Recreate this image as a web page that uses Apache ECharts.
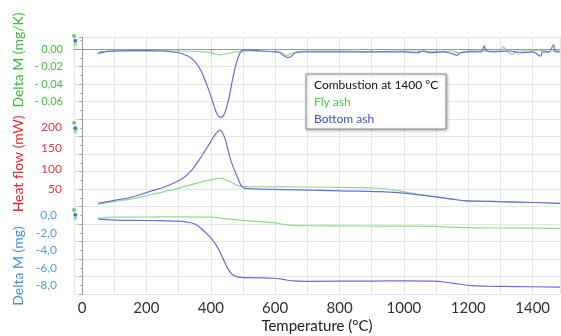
<!DOCTYPE html>
<html><head><meta charset="utf-8">
<script src="https://cdn.jsdelivr.net/npm/echarts@6/dist/echarts.min.js"></script>
<style>html,body{margin:0;padding:0;background:#fff}#c{width:561px;height:336px}</style>
</head><body><div id="c"></div>
<script>
// ---- data (temperature °C, value) ----
const dtgBottom = [[50,-0.005],[70,-0.003],[100,-0.002],[150,-0.0015],[200,-0.0015],[250,-0.002],[300,-0.004],[330,-0.008],[350,-0.014],[370,-0.025],[390,-0.043],[405,-0.059],[418,-0.073],[430,-0.078],[442,-0.074],[455,-0.058],[468,-0.034],[480,-0.015],[490,-0.005],[500,-0.001],[520,-0.001],[560,-0.002],[600,-0.003],[615,-0.004],[630,-0.008],[640,-0.0095],[650,-0.008],[662,-0.004],[680,-0.003],[800,-0.003],[900,-0.003],[1000,-0.003],[1040,-0.004],[1060,-0.002],[1080,-0.004],[1120,-0.003],[1150,-0.005],[1165,-0.007],[1175,-0.004],[1200,-0.003],[1240,-0.003],[1250,0.004],[1256,-0.002],[1280,-0.003],[1330,-0.002],[1360,-0.004],[1400,-0.003],[1425,-0.008],[1432,-0.002],[1450,-0.003],[1465,0.005],[1470,-0.003],[1485,-0.003]];
const dtgFly = [[50,-0.003],[100,-0.002],[200,-0.002],[300,-0.002],[380,-0.003],[410,-0.005],[430,-0.0065],[450,-0.005],[480,-0.003],[520,-0.002],[600,-0.003],[620,-0.004],[635,-0.007],[650,-0.005],[670,-0.003],[700,-0.002],[800,-0.002],[900,-0.003],[1000,-0.002],[1050,-0.002],[1100,-0.003],[1150,-0.002],[1170,-0.004],[1200,-0.002],[1230,-0.001],[1260,-0.002],[1300,-0.002],[1308,0.003],[1320,-0.002],[1338,-0.006],[1350,-0.002],[1380,-0.002],[1420,-0.001],[1440,-0.004],[1460,-0.002],[1485,-0.001]];
const hfBottom = [[50,17],[100,24],[150,31],[209,45],[262,58],[313,77],[340,96],[365,122],[380,140],[397,161],[412,180],[422,189],[428,192],[434,189],[445,170],[459,128],[470,103],[480,85],[490,66],[500,55],[520,52],[625,50],[800,47],[928,45],[990,42],[1040,38],[1094,33],[1150,27],[1194,23],[1250,22],[1294,21],[1400,19],[1485,17]];
const hfFly = [[50,15],[100,21],[150,27],[209,37],[262,46],[313,56],[360,66],[400,73],[428,77],[445,74],[470,65],[490,58],[520,57],[700,56],[887,54],[928,53],[990,46],[1040,39],[1094,33],[1150,27],[1194,23],[1294,21],[1400,19],[1485,17]];
const tgBottom = [[50,-0.45],[100,-0.55],[200,-0.6],[300,-0.68],[330,-0.8],[344,-0.92],[360,-1.2],[375,-1.69],[390,-2.2],[406,-2.83],[418,-3.5],[428,-4.17],[440,-5.1],[450,-5.88],[460,-6.5],[469,-6.83],[480,-7.0],[490,-7.09],[550,-7.15],[594,-7.2],[620,-7.3],[656,-7.51],[700,-7.55],[900,-7.52],[1000,-7.5],[1090,-7.52],[1150,-7.75],[1213,-8.05],[1260,-8.1],[1350,-8.15],[1485,-8.22]];
const tgFly = [[50,-0.35],[100,-0.22],[200,-0.2],[300,-0.18],[400,-0.22],[450,-0.42],[500,-0.58],[553,-0.74],[600,-0.88],[620,-1.0],[640,-1.12],[700,-1.2],[866,-1.23],[1000,-1.24],[1090,-1.27],[1150,-1.36],[1188,-1.42],[1300,-1.46],[1485,-1.49]];
// small colored axis-origin markers [x, y] per axis
const markDtg = [[-25,0.0151,'#3ec43e'],[-21,0.0097,'#3344cc'],[-21,0.0059,'#7fdf7f']];
const markHf = [[-25,209.8,'#3ec43e'],[-21,196.4,'#3344cc'],[-21,188.3,'#7fdf7f']];
const markTg = [[-25,0.6,'#3ec43e'],[-21,0.03,'#3344cc'],[-21,-0.31,'#7fdf7f']];
const legendTitle = 'Combustion at 1400 °C';
const seriesNames = ['Fly ash','Bottom ash'];

const FONT = 'Lato';
const cFly = '#8ade8a', cBot = '#6c6ce2';
const chart = echarts.init(document.getElementById('c'));
function mk(arr, yi){
  return {type:'scatter', yAxisIndex:yi, clip:false, silent:true, z:5,
    symbolSize:4, data:arr.map(p=>({value:[p[0],p[1]], itemStyle:{color:p[2]}}))};
}
function ln(name, data, yi, color){
  return {type:'line', name, data, yAxisIndex:yi, showSymbol:false, symbol:'none',
    lineStyle:{color, width:1.2}, itemStyle:{color}, smooth:0.4, z:3};
}
chart.setOption({
  animation:false,
  backgroundColor:'#fff',
  textStyle:{fontFamily:FONT},
  grid:{left:74, right:1, top:37, bottom:42, containLabel:false, outerBoundsMode:'none'},
  xAxis:{type:'value', min:-25, max:1485, splitNumber:15, minInterval:100, maxInterval:100,
    axisLine:{lineStyle:{color:'#999'}}, axisTick:{show:true, length:3, lineStyle:{color:'#999'}},
    axisLabel:{color:'#333', fontSize:15, fontFamily:FONT, margin:7,
      showMinLabel:false, showMaxLabel:false,
      formatter:v=>{const r=Math.round(v); return (r>=0 && r%200===0)? String(r):'';}},
    splitLine:{show:true, lineStyle:{color:'#e6e6e6', width:1}},
    name:'Temperature (°C)', nameLocation:'middle', nameGap:25, nameMoveOverlap:false,
    nameTextStyle:{color:'#222', fontSize:15, fontFamily:FONT}},
  yAxis:[
    {type:'value', min:-0.28, max:0.014, interval:0.02, position:'left',
      axisLine:{show:true, lineStyle:{color:'#999'}},
      axisTick:{show:true, length:3, lineStyle:{color:'#aaa'}},
      minorTick:{show:true, splitNumber:2, length:2, lineStyle:{color:'#aaa'}},
      splitLine:{show:true, lineStyle:{color:'#e6e6e6'}},
      axisLabel:{color:'#4cbc4c', fontSize:11, fontFamily:FONT, margin:11,
        showMinLabel:false, showMaxLabel:false,
        formatter:v=>{const k=Math.round(v*100); if(Math.abs(v*100-k)>0.01||k<-6||k>0) return '';
          return k===0?'0,00':'- 0,'+String(-k).padStart(2,'0');}}},
    {type:'value', min:-200, max:415, interval:50, position:'left',
      axisLine:{show:false}, axisTick:{show:false}, splitLine:{show:false},
      axisLabel:{color:'#e8383d', fontSize:12, fontFamily:FONT, margin:12,
        showMinLabel:false, showMaxLabel:false,
        formatter:v=>{const r=Math.round(v); return (r>=50 && r<=200 && Math.abs(v-r)<0.01)? String(r):'';}}},
    {type:'value', min:-9, max:20.37, interval:1, position:'left',
      axisLine:{show:false}, axisTick:{show:false}, splitLine:{show:false},
      axisLabel:{color:'#5b9bd5', fontSize:12, fontFamily:FONT, margin:17,
        showMinLabel:false, showMaxLabel:false,
        formatter:v=>{const r=Math.round(v); if(Math.abs(v-r)>0.01||r>0||r<-8||r%2!==0) return '';
          return r===0?'0,0':'-'+(-r)+',0';}}}
  ],
  series:[
    ln(seriesNames[0], dtgFly, 0, cFly),
    ln(seriesNames[1], dtgBottom, 0, cBot),
    ln(seriesNames[0], hfFly, 1, cFly),
    ln(seriesNames[1], hfBottom, 1, cBot),
    ln(seriesNames[0], tgFly, 2, cFly),
    ln(seriesNames[1], tgBottom, 2, cBot),
    mk(markDtg,0), mk(markHf,1), mk(markTg,2)
  ],
  graphic:[
    {type:'text', x:18, y:60, rotation:Math.PI/2, style:{text:'Delta M (mg/K)', fill:'#3cba3c', font:'14px '+FONT, align:'center', verticalAlign:'middle'}},
    {type:'text', x:18, y:164, rotation:Math.PI/2, style:{text:'Heat flow (mW)', fill:'#e0282e', font:'14px '+FONT, align:'center', verticalAlign:'middle'}},
    {type:'text', x:18, y:266, rotation:Math.PI/2, style:{text:'Delta M (mg)', fill:'#4a8fd0', font:'14px '+FONT, align:'center', verticalAlign:'middle'}},
    {type:'group', x:306, y:74, z:100, children:[
      {type:'rect', z:100, shape:{x:0,y:0,width:140,height:55}, style:{fill:'#ffffff', stroke:'#8c8c8c', lineWidth:1, shadowBlur:3, shadowColor:'rgba(0,0,0,0.3)', shadowOffsetX:1, shadowOffsetY:1}},
      {type:'text', z:101, x:8, y:11, style:{text:legendTitle, fill:'#111', font:'12px '+FONT, verticalAlign:'middle'}},
      {type:'text', z:101, x:8, y:28, style:{text:seriesNames[0], fill:'#3fd03f', font:'12px '+FONT, verticalAlign:'middle'}},
      {type:'text', z:101, x:8, y:45, style:{text:seriesNames[1], fill:'#3d52c8', font:'12px '+FONT, verticalAlign:'middle'}}
    ]}
  ]
});
</script></body></html>
